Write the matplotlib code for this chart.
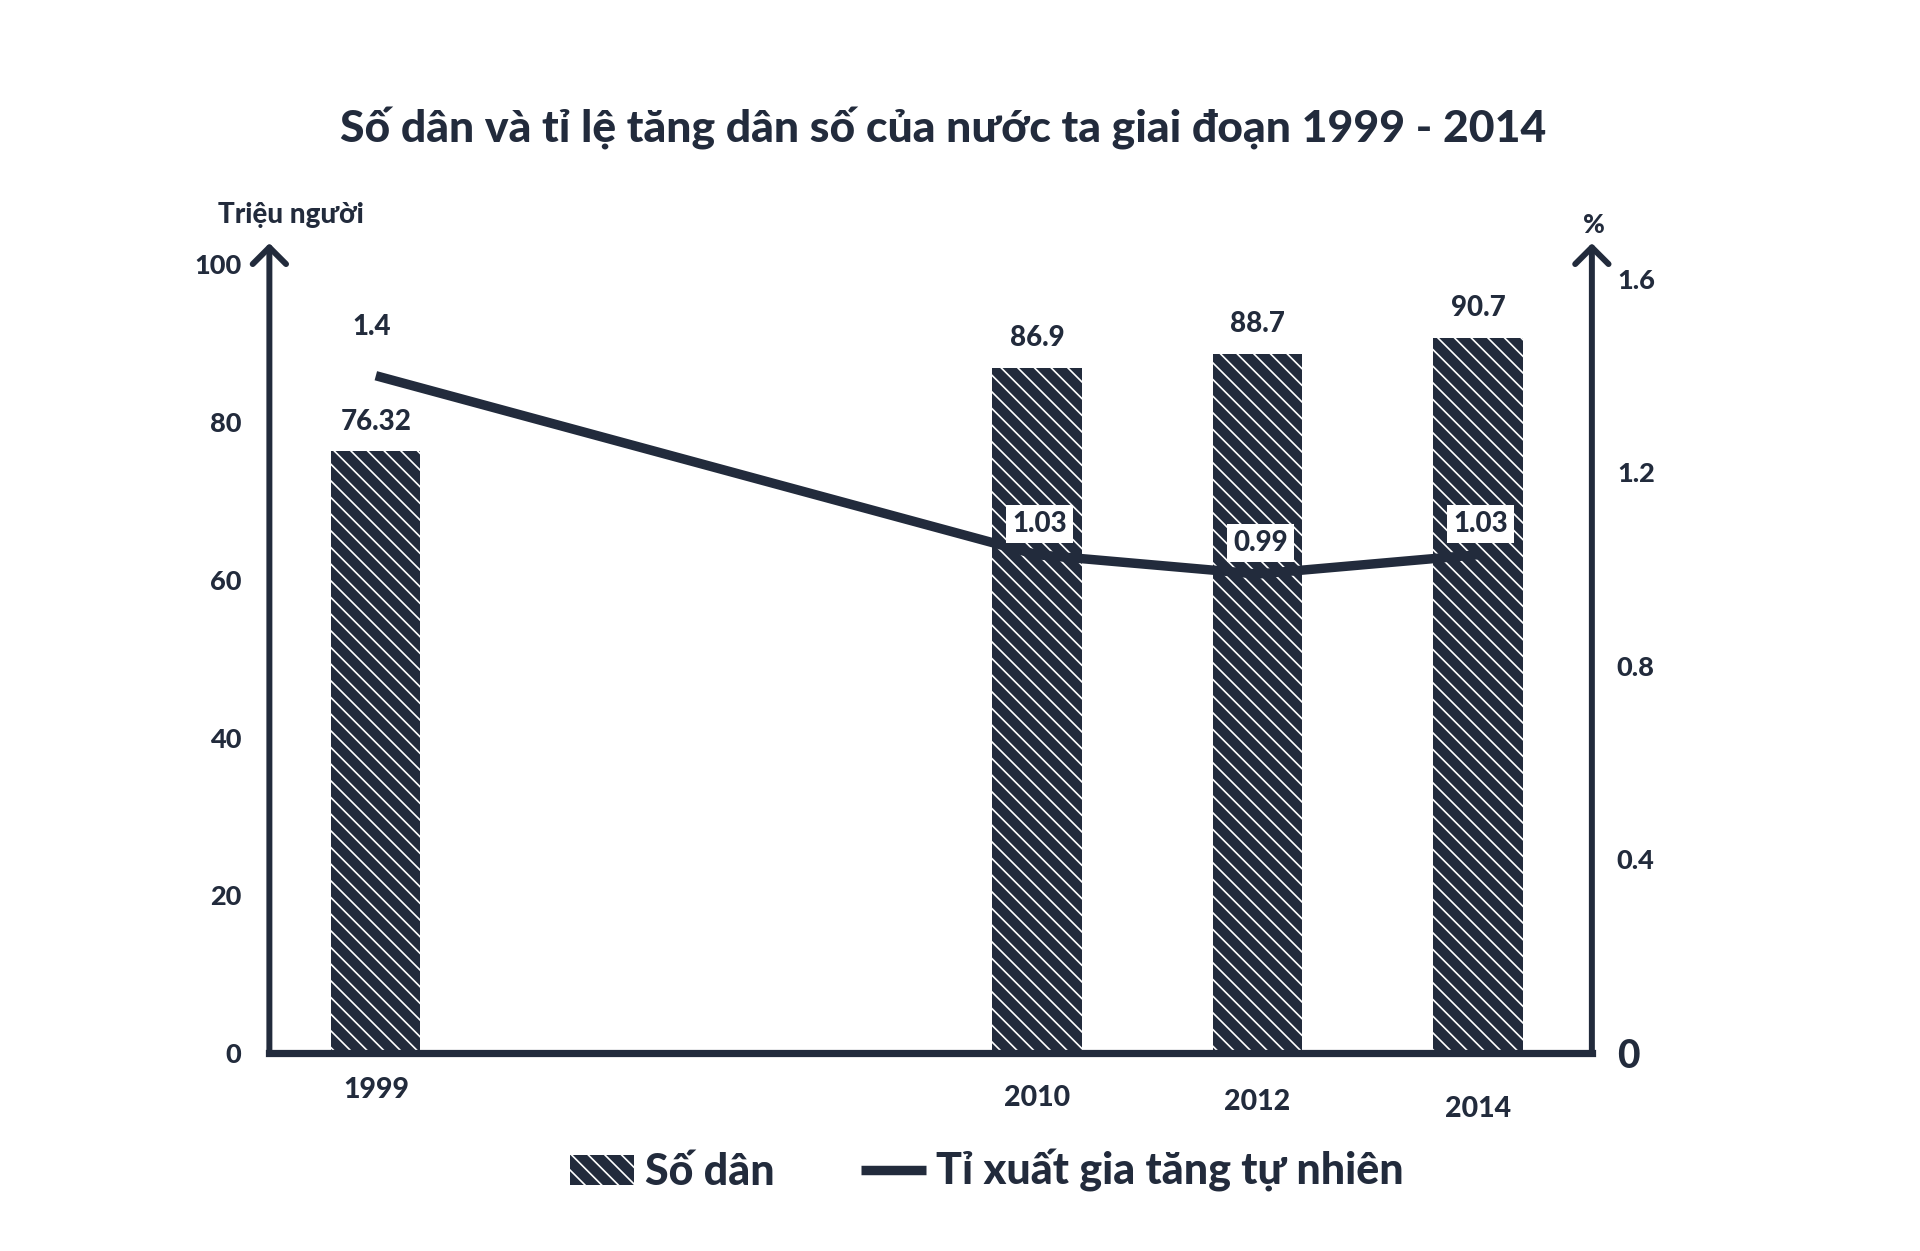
import matplotlib
matplotlib.use("Agg")
import matplotlib.pyplot as plt
from matplotlib.transforms import ScaledTranslation

plt.rcParams['font.family'] = ['Lato', 'DejaVu Sans']
plt.rcParams['hatch.color'] = 'white'
plt.rcParams['hatch.linewidth'] = 1.2

# ---- data ----
years = ['1999', '2010', '2012', '2014']
population = [76.32, 86.9, 88.7, 90.7]          # triệu người
growth_rate = [1.4, 1.03, 0.99, 1.03]            # %
pop_labels = ['76.32', '86.9', '88.7', '90.7']
rate_labels = ['1.4', '1.03', '0.99', '1.03']
left_ticks = [0, 20, 40, 60, 80, 100]
right_ticks = [0, 0.4, 0.8, 1.2, 1.6]
right_tick_labels = ['0', '0.4', '0.8', '1.2', '1.6']

title = 'Số dân và tỉ lệ tăng dân số của nước ta giai đoạn 1999 - 2014'
left_unit = 'Triệu người'
right_unit = '%'
legend_bar = 'Số dân'
legend_line = 'Tỉ xuất gia tăng tự nhiên'

# ---- layout ----
x_pos = [0, 3, 4, 5]
navy = '#222b3c'
W = 900

fig = plt.figure(figsize=(19.2, 12.51), dpi=100)
ax = fig.add_axes([0.1403, 0.1583, 0.6888, 0.6303])
ax2 = ax.twinx()

bars = ax.bar(x_pos, population, width=0.405, color=navy, hatch='\\\\',
              edgecolor='white', linewidth=0, label=legend_bar, zorder=2)
line, = ax2.plot(x_pos, growth_rate, color=navy, lw=6.8,
                 solid_capstyle='butt', label=legend_line, zorder=3)

ax.set_xlim(-0.483, 5.517)
ax.set_ylim(0, 100)
ax2.set_ylim(0, 1.63)

for a in (ax, ax2):
    for s in a.spines.values():
        s.set_visible(False)

# axes lines with arrows
for xf in (0, 1):
    ax.annotate('', xy=(xf, 1.027), xytext=(xf, 0), xycoords='axes fraction',
                textcoords='axes fraction',
                arrowprops=dict(arrowstyle='->,head_length=0.6,head_width=0.6',
                                lw=4.3, color=navy, shrinkA=0, shrinkB=0,
                                mutation_scale=20), annotation_clip=False)
ax.axhline(0, color=navy, lw=5.2, clip_on=False, zorder=4)

# ticks
ax.set_yticks(left_ticks)
ax.set_yticklabels([str(t) for t in left_ticks], fontsize=19.5, fontweight=W, color=navy)
ax.tick_params(axis='y', length=0, pad=20)
ax2.set_yticks(right_ticks)
ax2.set_yticklabels(right_tick_labels, fontsize=19.5, fontweight=W, color=navy)
ax2.tick_params(axis='y', length=0, pad=18)
rl = ax2.get_yticklabels()
rl[0].set_fontsize(28)

ax.set_xticks(x_pos)
ax.set_xticklabels(years, fontsize=20.5, fontweight=W, color=navy)
ax.tick_params(axis='x', length=0, pad=17)
offsets = [0, -6, -9, -14]
for lab, off in zip(ax.get_xticklabels(), offsets):
    lab.set_transform(lab.get_transform() + ScaledTranslation(0, off / 72, fig.dpi_scale_trans))

# bar labels
for x, v, t in zip(x_pos, population, pop_labels):
    ax.annotate(t, xy=(x, v), xytext=(0, 12), textcoords='offset points',
                ha='center', va='bottom', fontsize=20, fontweight=W, color=navy)

# line labels
for i, (x, v, t) in enumerate(zip(x_pos, growth_rate, rate_labels)):
    if i == 0:
        ax2.annotate(t, xy=(x, v), xytext=(-3, 26), textcoords='offset points',
                     ha='center', va='bottom', fontsize=20, fontweight=W, color=navy,
                     zorder=6)
    else:
        ax2.annotate(t, xy=(x, v), xytext=(2, 13), textcoords='offset points',
                     ha='center', va='bottom', fontsize=20, fontweight=W, color=navy,
                     bbox=dict(boxstyle='square,pad=0.22', fc='white', ec='none'),
                     zorder=6)

# unit labels
fig.text(0.1516, 0.828, left_unit, ha='center', va='center', fontsize=20,
         fontweight=W, color=navy)
fig.text(0.830, 0.820, right_unit, ha='center', va='center', fontsize=19,
         fontweight=W, color=navy)

fig.text(0.491, 0.897, title, ha='center', va='center', fontsize=32,
         fontweight=W, color=navy)

leg = fig.legend(handles=[bars, line], labels=[legend_bar, legend_line],
                 loc='center', bbox_to_anchor=(0.514, 0.064), ncol=2, frameon=False,
                 fontsize=31, handlelength=1.5, handleheight=0.7,
                 handletextpad=0.25, columnspacing=2.0)
for t in leg.get_texts():
    t.set_fontweight(W)
    t.set_color(navy)

fig.savefig('out.png', dpi=100, facecolor='white')
